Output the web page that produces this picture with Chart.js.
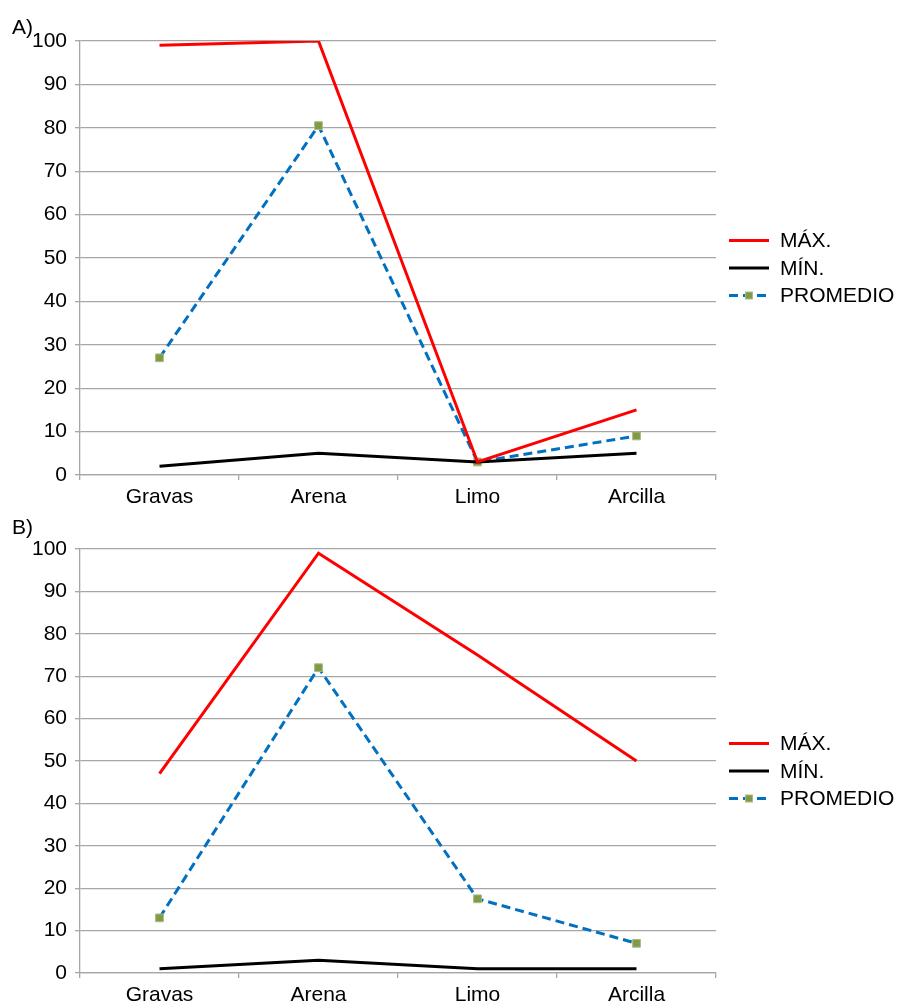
<!DOCTYPE html>
<html>
<head>
<meta charset="utf-8">
<script src="https://cdn.jsdelivr.net/npm/chart.js@4/dist/chart.umd.min.js"></script>
<style>
  body { margin: 0; background: #fff; }
  .wrap { position: absolute; left: 0; width: 897px; }
  .tag { position: absolute; left: 12px; font: 21px "Liberation Sans", Arial, sans-serif; color: #000; }
</style>
</head>
<body>
<div class="wrap" style="top:0;height:505px"><canvas id="chartA" width="897" height="505"></canvas></div>
<div class="wrap" style="top:505px;height:501px"><canvas id="chartB" width="897" height="501"></canvas></div>
<div class="tag" style="top:15px">A)</div>
<div class="tag" style="top:515px">B)</div>
<script>
const categories = ["Gravas", "Arena", "Limo", "Arcilla"];
const seriesNames = ["MÁX.", "MÍN.", "PROMEDIO"];
const maxA = [99, 100, 3, 15];
const minA = [2, 5, 3, 5];
const avgA = [27, 80.5, 3, 9];
const maxB = [47, 99, 75, 50];
const minB = [1, 3, 1, 1];
const avgB = [13, 72, 17.5, 7];
const yTicks = [0, 10, 20, 30, 40, 50, 60, 70, 80, 90, 100];

const FONT = "Liberation Sans";
const GRID = "#a6a6a6";

// legend drawn by hand so the dashed line gets its marker in the middle
const sideLegend = {
  id: "sideLegend",
  afterDraw(chart) {
    const ctx = chart.ctx;
    const a = chart.chartArea;
    const mid = (a.top + a.bottom) / 2 + 10;
    chart.data.datasets.forEach((ds, i) => {
      const y = mid + (i - 1) * 27.5;
      ctx.save();
      ctx.strokeStyle = ds.borderColor;
      ctx.lineWidth = 3;
      ctx.setLineDash(ds.borderDash || []);
      ctx.beginPath();
      ctx.moveTo(729, y);
      ctx.lineTo(769, y);
      ctx.stroke();
      if (ds.pointRadius > 0) {
        ctx.setLineDash([]);
        ctx.fillStyle = ds.pointBackgroundColor;
        ctx.strokeStyle = ds.pointBorderColor;
        ctx.lineWidth = 1;
        ctx.fillRect(745.5, y - 3.5, 7, 7);
        ctx.strokeRect(745.5, y - 3.5, 7, 7);
      }
      ctx.fillStyle = "#000";
      ctx.font = "21px " + FONT;
      ctx.textBaseline = "middle";
      ctx.fillText(ds.label, 780, y + 1);
      ctx.restore();
    });
  }
};

function makeChart(id, maxVals, minVals, avgVals, topPad, xHeight) {
  return new Chart(document.getElementById(id), {
    type: "line",
    data: {
      labels: categories,
      datasets: [
        { label: seriesNames[0], data: maxVals, borderColor: "#ff0000", borderWidth: 3, pointRadius: 0, tension: 0 },
        { label: seriesNames[1], data: minVals, borderColor: "#000000", borderWidth: 3, pointRadius: 0, tension: 0 },
        { label: seriesNames[2], data: avgVals, borderColor: "#0070c0", borderWidth: 3, borderDash: [9, 5],
          pointStyle: "rect", pointRadius: 5.5, pointBackgroundColor: "#7f9a48", pointBorderColor: "#a9bd80",
          pointBorderWidth: 1, tension: 0 }
      ]
    },
    options: {
      responsive: false,
      animation: false,
      layout: { padding: { top: topPad, right: 181, left: 0, bottom: 0 } },
      plugins: { legend: { display: false }, tooltip: { enabled: false } },
      scales: {
        x: {
          offset: true,
          grid: { offset: true, drawOnChartArea: false, drawTicks: true, tickLength: 5, color: GRID, lineWidth: 1.3 },
          border: { color: GRID, width: 1.3 },
          ticks: { color: "#000", font: { family: FONT, size: 21 }, padding: 5, maxRotation: 0 },
          afterFit(scale) { scale.height = xHeight; }
        },
        y: {
          min: 0, max: 100,
          afterBuildTicks(scale) { scale.ticks = yTicks.map(v => ({ value: v })); },
          grid: { color: GRID, lineWidth: 1.3, tickLength: 5 },
          border: { color: GRID, width: 1.3 },
          ticks: { color: "#000", font: { family: FONT, size: 21 }, padding: 8 },
          afterFit(scale) { scale.width = 80; }
        }
      }
    },
    plugins: [sideLegend]
  });
}

makeChart("chartA", maxA, minA, avgA, 41, 30);
makeChart("chartB", maxB, minB, avgB, 44, 33);
</script>
</body>
</html>
